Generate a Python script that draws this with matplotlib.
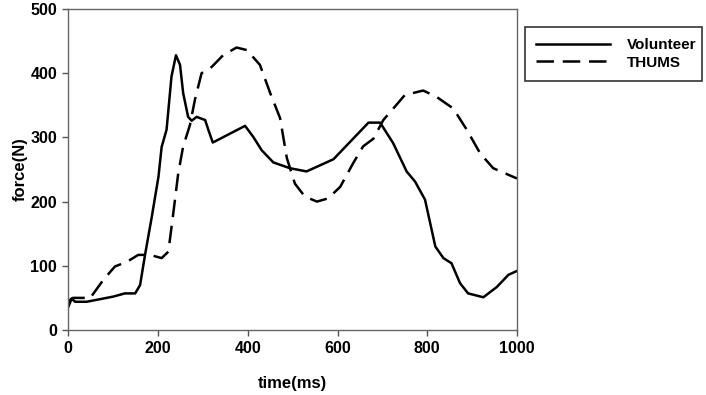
import matplotlib
matplotlib.use("Agg")
import matplotlib.pyplot as plt

plt.rcParams['font.family'] = ['Liberation Sans', 'DejaVu Sans']

vol_t = [0, 7.5, 15, 41, 100, 126, 149, 160, 171, 186, 201, 208, 219, 230, 240, 249, 256, 267, 275,
         286, 305, 312, 322, 394, 412, 431, 457, 494, 531, 591, 669, 695, 724, 754, 773, 795, 818,
         836, 854, 873, 891, 925, 955, 981, 1000]
vol_f = [36, 49, 44, 44, 52, 57, 57, 70, 117, 176, 239, 285, 312, 395, 428, 413, 369, 332, 326,
         332, 327, 312, 292, 318, 301, 280, 261, 252, 247, 266, 323, 323, 291, 247, 231, 203, 130,
         112, 104, 73, 57, 51, 67, 86, 92]

th_t = [0, 10, 40, 48, 78, 104, 130, 156, 182, 208, 223, 234, 245, 256, 271, 282, 297, 320, 345,
        375, 398, 427, 450, 472, 487, 505, 527, 554, 579, 606, 635, 657, 680, 702, 728, 750, 791,
        821, 858, 888, 918, 947, 1000]
th_f = [45, 50, 50, 49, 78, 99, 106, 117, 117, 112, 122, 182, 244, 286, 319, 358, 400, 410, 428,
        440, 436, 413, 369, 330, 268, 228, 208, 200, 205, 223, 260, 286, 298, 327, 348, 366, 373,
        363, 345, 312, 275, 252, 236]

x_ticks = [0, 200, 400, 600, 800, 1000]
y_ticks = [0, 100, 200, 300, 400, 500]

fig = plt.figure(figsize=(7.06, 3.95), dpi=100)
ax = fig.add_axes([68.3 / 706, (395 - 330) / 395, (517 - 68.3) / 706, (330 - 9) / 395])

ax.plot(vol_t, vol_f, color='black', lw=1.8, label='Volunteer')
ax.plot(th_t, th_f, color='black', lw=1.8, dashes=(7, 3.5), label='THUMS')

ax.set_xlim(0, 1000)
ax.set_ylim(0, 500)
ax.set_xticks(x_ticks)
ax.set_yticks(y_ticks)
ax.tick_params(axis='both', direction='out', length=4, width=1, color='#555555',
               labelsize=11.5, pad=4)
ax.tick_params(top=False, right=False)
for lab in ax.get_xticklabels() + ax.get_yticklabels():
    lab.set_fontweight('bold')
for sp in ax.spines.values():
    sp.set_color('#666666')
    sp.set_linewidth(1)

ax.set_xlabel('time(ms)', fontsize=12, fontweight='bold', labelpad=14)
ax.set_ylabel('force(N)', fontsize=12, fontweight='bold', labelpad=2)

leg = ax.legend(loc='upper left', bbox_to_anchor=(525 / 706, 1 - 80 / 395, 177 / 706, 53 / 395),
                bbox_transform=fig.transFigure, mode='expand', fancybox=False, framealpha=1,
                edgecolor='#333333', prop={'weight': 'bold', 'size': 11}, handlelength=4.8,
                handletextpad=1.1, borderpad=0.75, labelspacing=0.2, borderaxespad=0)
leg.get_frame().set_linewidth(1.2)

fig.savefig('out.png', dpi=100)
